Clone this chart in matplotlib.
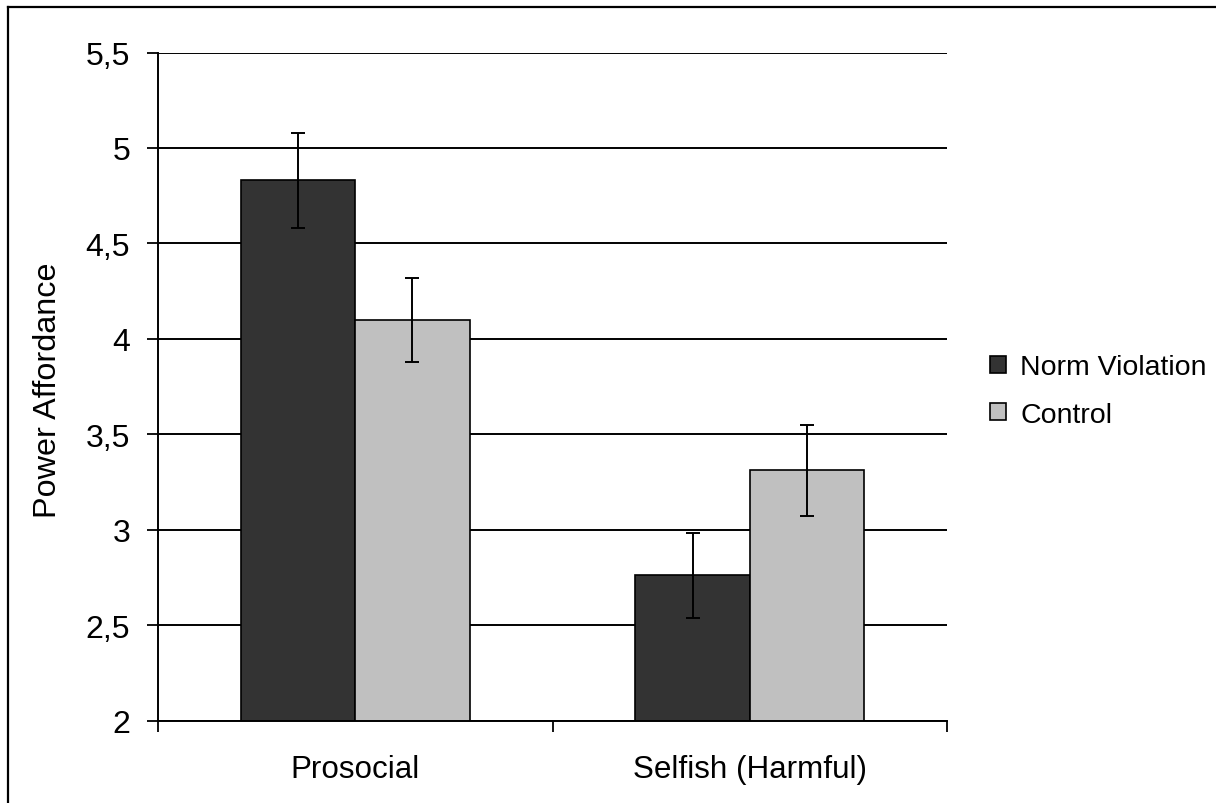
import matplotlib
matplotlib.use('Agg')
import matplotlib.pyplot as plt
import numpy as np
from matplotlib.ticker import FuncFormatter
from matplotlib.lines import Line2D

# Data
categories = ['Prosocial', 'Selfish (Harmful)']
norm_violation = [4.83, 2.76]
norm_violation_err = [0.25, 0.225]
control = [4.10, 3.31]
control_err = [0.22, 0.24]
series_names = ['Norm Violation', 'Control']

plt.rcParams['font.family'] = ['Liberation Sans', 'DejaVu Sans']

fig = plt.figure(figsize=(12.16, 8.04), dpi=100)
ax = fig.add_axes([158/1216, 1-721.5/804, (947-158)/1216, (721.5-53.5)/804])

x = np.arange(len(categories))
w = 0.29
ax.bar(x - w/2, norm_violation, w, color='#333333', edgecolor='black',
       linewidth=1.2, label=series_names[0], zorder=2)
ax.bar(x + w/2, control, w, color='#c0c0c0', edgecolor='black',
       linewidth=1.2, label=series_names[1], zorder=2)
ax.errorbar(x - w/2, norm_violation, yerr=norm_violation_err, fmt='none',
            ecolor='black', elinewidth=1.4, capsize=5, capthick=1.4, zorder=3)
ax.errorbar(x + w/2, control, yerr=control_err, fmt='none',
            ecolor='black', elinewidth=1.4, capsize=5, capthick=1.4, zorder=3)

ax.set_ylim(2, 5.5)
ax.set_xlim(-0.5, 1.5)
ax.set_yticks(np.arange(2, 5.51, 0.5))
ax.yaxis.set_major_formatter(FuncFormatter(lambda v, p: f'{v:g}'.replace('.', ',')))
ax.yaxis.grid(True, color='black', linewidth=1.4)
ax.set_axisbelow(True)

# category boundaries as ticks, labels centred on groups
ax.set_xticks([-0.5, 0.5, 1.5])
ax.set_xticklabels([])
ax.set_xticks(x, minor=True)
ax.set_xticklabels(categories, minor=True, fontsize=22.6)
ax.tick_params(axis='x', which='minor', length=0, pad=24)
ax.tick_params(axis='x', which='major', direction='out', length=8, width=1.3)
ax.tick_params(axis='y', direction='out', length=8, width=1.3, labelsize=23, pad=12)

for s in ['top', 'right']:
    ax.spines[s].set_visible(False)
for s in ['left', 'bottom']:
    ax.spines[s].set_linewidth(1.4)

ax.set_ylabel('Power Affordance', fontsize=23.3)
ax.yaxis.set_label_coords(-0.121, 0.496)

fig.legend(loc='center left', bbox_to_anchor=(990/1216, 1-392/804), frameon=False,
           fontsize=20.5, handlelength=0.57, handleheight=0.57, handletextpad=0.5,
           labelspacing=0.75, borderpad=0, borderaxespad=0)

# outer frame (left and top edges visible)
fig.add_artist(Line2D([8/1216, 8/1216], [0, 1-8/804], color='black', linewidth=1.6,
                      transform=fig.transFigure))
fig.add_artist(Line2D([8/1216, 1], [1-8/804, 1-8/804], color='black', linewidth=1.6,
                      transform=fig.transFigure))

fig.savefig('out.png', dpi=100)
